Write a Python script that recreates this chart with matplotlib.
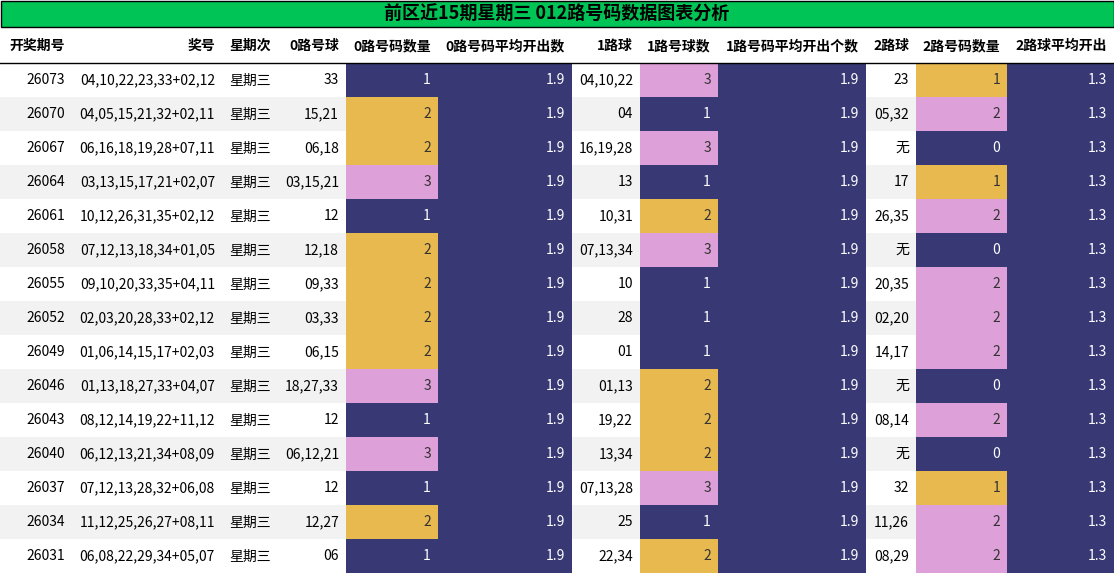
import matplotlib
matplotlib.use('Agg')
import matplotlib.pyplot as plt
from matplotlib.patches import Rectangle

plt.rcParams['font.family'] = ['Noto Sans CJK SC', 'DejaVu Sans']

title = "前区近15期星期三 012路号码数据图表分析"
headers = ["开奖期号", "奖号", "星期次", "0路号球", "0路号码数量", "0路号码平均开出数",
           "1路球", "1路号球数", "1路号码平均开出个数", "2路球", "2路号码数量", "2路球平均开出"]

issues = ["26073", "26070", "26067", "26064", "26061", "26058", "26055", "26052",
          "26049", "26046", "26043", "26040", "26037", "26034", "26031"]
draws = ["04,10,22,23,33+02,12", "04,05,15,21,32+02,11", "06,16,18,19,28+07,11",
         "03,13,15,17,21+02,07", "10,12,26,31,35+02,12", "07,12,13,18,34+01,05",
         "09,10,20,33,35+04,11", "02,03,20,28,33+02,12", "01,06,14,15,17+02,03",
         "01,13,18,27,33+04,07", "08,12,14,19,22+11,12", "06,12,13,21,34+08,09",
         "07,12,13,28,32+06,08", "11,12,25,26,27+08,11", "06,08,22,29,34+05,07"]
weekday = "星期三"
road0 = ["33", "15,21", "06,18", "03,15,21", "12", "12,18", "09,33", "03,33", "06,15",
         "18,27,33", "12", "06,12,21", "12", "12,27", "06"]
cnt0 = [1, 2, 2, 3, 1, 2, 2, 2, 2, 3, 1, 3, 1, 2, 1]
road1 = ["04,10,22", "04", "16,19,28", "13", "10,31", "07,13,34", "10", "28", "01",
         "01,13", "19,22", "13,34", "07,13,28", "25", "22,34"]
cnt1 = [3, 1, 3, 1, 2, 3, 1, 1, 1, 2, 2, 2, 3, 1, 2]
road2 = ["23", "05,32", "无", "17", "26,35", "无", "20,35", "02,20", "14,17", "无",
         "08,14", "无", "32", "11,26", "08,29"]
cnt2 = [1, 2, 0, 1, 2, 0, 2, 2, 2, 0, 2, 0, 1, 2, 2]
avg0, avg1, avg2 = "1.9", "1.9", "1.3"

edges = [0, 72, 222, 278, 346, 438, 572, 640, 718, 866, 916, 1007, 1114]
NAVY, GOLD, PINK = "#383874", "#e8b94f", "#dda0d8"

fig = plt.figure(figsize=(11.14, 5.74), dpi=100)
ax = fig.add_axes([0, 0, 1, 1])
ax.set_xlim(0, 1114)
ax.set_ylim(574, 0)
ax.axis('off')

# title bar
ax.add_patch(Rectangle((0.5, 0.5), 1113, 26, facecolor="#00c455", edgecolor="black", lw=1))
ax.text(557, 14, title, ha='center', va='center', fontsize=13, fontweight='bold')

# header
hy = 46
for i, h in enumerate(headers):
    if i == 2:
        ax.text(edges[i] + 7, hy, h, ha='left', va='center', fontsize=10, fontweight='bold')
    else:
        ax.text(edges[i + 1] - 7, hy, h, ha='right', va='center', fontsize=10, fontweight='bold')
ax.plot([0, 1114], [62.5, 62.5], color='black', lw=1)


def cnt_color(v, lo, mid):
    if v == lo:
        return NAVY
    if v == mid:
        return GOLD
    return PINK


row_h = 34
for r in range(len(issues)):
    y0 = 63 + r * row_h
    yc = y0 + row_h / 2
    bg = "white" if r % 2 == 0 else "#f2f2f2"
    ax.add_patch(Rectangle((0, y0), 1114, row_h, facecolor=bg, edgecolor='none'))
    cells = [issues[r], draws[r], weekday, road0[r], str(cnt0[r]), avg0,
             road1[r], str(cnt1[r]), avg1, road2[r], str(cnt2[r]), avg2]
    colors = {4: cnt_color(cnt0[r], 1, 2), 5: NAVY, 7: cnt_color(cnt1[r], 1, 2), 8: NAVY,
              10: cnt_color(cnt2[r], 0, 1), 11: NAVY}
    for c, txt in enumerate(cells):
        fc = colors.get(c)
        tc = "black"
        if fc is not None:
            ax.add_patch(Rectangle((edges[c], y0), edges[c + 1] - edges[c], row_h,
                                   facecolor=fc, edgecolor='none'))
            tc = "white" if fc == NAVY else "#333333"
        if c == 2:
            ax.text(edges[c] + 7, yc + 1, txt, ha='left', va='center', fontsize=10, color=tc)
        else:
            ax.text(edges[c + 1] - 7, yc, txt, ha='right', va='center', fontsize=10, color=tc)

fig.savefig("out.png", dpi=100)
